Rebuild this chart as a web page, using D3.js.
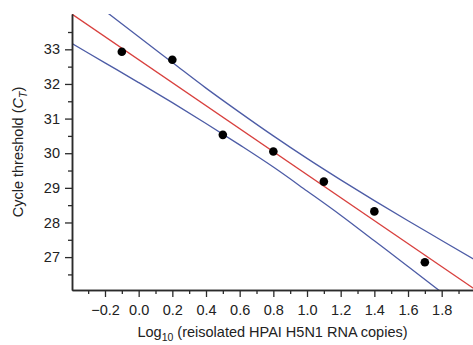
<!DOCTYPE html>
<html>
<head>
<meta charset="utf-8">
<script src="https://cdn.jsdelivr.net/npm/d3@7"></script>
<style>
  html, body { margin: 0; padding: 0; background: #fff; }
  svg { display: block; font-family: "Liberation Sans", Arial, Helvetica, sans-serif; }
</style>
</head>
<body>
<svg id="chart" width="473" height="345"></svg>
<script>
// ---- data ----
const pointLog = [-0.1, 0.2, 0.5, 0.8, 1.1, 1.4, 1.7];
const pointCt  = [32.93, 32.70, 30.53, 30.05, 29.18, 28.32, 26.85];

const fitLog = [-0.4, 2.0];
const fitCt  = [34.03, 26.06];

const bandLog   = [-0.4, -0.2, 0.0, 0.2, 0.4, 0.6, 0.8, 1.0, 1.2, 1.4, 1.6, 1.8, 2.0];
const bandUpper = [34.88, 34.11, 33.36, 32.62, 31.88, 31.18, 30.50, 29.85, 29.23, 28.63, 28.05, 27.48, 26.91];
const bandLower = [33.18, 32.61, 32.04, 31.46, 30.86, 30.24, 29.60, 28.91, 28.21, 27.47, 26.73, 25.98, 25.21];

const xMajorTicks = [-0.2, 0.0, 0.2, 0.4, 0.6, 0.8, 1.0, 1.2, 1.4, 1.6, 1.8];
const xMinorTicks = [-0.3, -0.1, 0.1, 0.3, 0.5, 0.7, 0.9, 1.1, 1.3, 1.5, 1.7, 1.9];
const yMajorTicks = [27, 28, 29, 30, 31, 32, 33];
const yMinorTicks = [26.5, 27.5, 28.5, 29.5, 30.5, 31.5, 32.5, 33.5];

// ---- layout ----
const svg = d3.select("#chart");
const mLeft = 72, mRight = 473, mTop = 14, mBottom = 290;
const fontSize = 14.5;

const x = d3.scaleLinear().domain([-0.396, 1.986]).range([mLeft, mRight]);
const y = d3.scaleLinear().domain([26.05, 34.02]).range([mBottom, mTop]);

const axisColor = "#2b2b2b";
const blue = "#4d5ca6";
const red = "#d8403e";

svg.append("defs").append("clipPath").attr("id", "plotclip")
  .append("rect").attr("x", mLeft).attr("y", mTop)
  .attr("width", mRight - mLeft).attr("height", mBottom - mTop);

const plot = svg.append("g").attr("clip-path", "url(#plotclip)");

const line = d3.line().x(d => x(d[0])).y(d => y(d[1])).curve(d3.curveMonotoneX);

plot.append("path")
  .attr("d", line(bandLog.map((v, i) => [v, bandUpper[i]])))
  .attr("fill", "none").attr("stroke", blue).attr("stroke-width", 1.3);
plot.append("path")
  .attr("d", line(bandLog.map((v, i) => [v, bandLower[i]])))
  .attr("fill", "none").attr("stroke", blue).attr("stroke-width", 1.3);
plot.append("path")
  .attr("d", d3.line().x(d => x(d[0])).y(d => y(d[1]))(fitLog.map((v, i) => [v, fitCt[i]])))
  .attr("fill", "none").attr("stroke", red).attr("stroke-width", 1.3);

plot.selectAll("circle.pt")
  .data(pointLog.map((v, i) => [v, pointCt[i]]))
  .join("circle")
  .attr("class", "pt")
  .attr("cx", d => x(d[0])).attr("cy", d => y(d[1]))
  .attr("r", 4.3).attr("fill", "#000");

// ---- axes ----
function styleAxis(g) {
  g.select(".domain").attr("stroke", axisColor).attr("stroke-width", 1.5);
  g.selectAll(".tick line").attr("stroke", axisColor).attr("stroke-width", 1.3);
  g.selectAll(".tick text").attr("fill", "#222").style("font-size", fontSize + "px")
    .style("font-family", "'Liberation Sans', Arial, sans-serif");
}

const xMinor = svg.append("g").attr("transform", `translate(0,${mBottom})`)
  .call(d3.axisBottom(x).tickValues(xMinorTicks).tickSize(4).tickSizeOuter(0).tickFormat(""));
styleAxis(xMinor);
const xMajor = svg.append("g").attr("transform", `translate(0,${mBottom})`)
  .call(d3.axisBottom(x).tickValues(xMajorTicks).tickSize(7).tickSizeOuter(0).tickPadding(8)
    .tickFormat(d3.format(".1f")));
styleAxis(xMajor);

const yMinor = svg.append("g").attr("transform", `translate(${mLeft},0)`)
  .call(d3.axisLeft(y).tickValues(yMinorTicks).tickSize(4).tickSizeOuter(0).tickFormat(""));
styleAxis(yMinor);
const yMajor = svg.append("g").attr("transform", `translate(${mLeft},0)`)
  .call(d3.axisLeft(y).tickValues(yMajorTicks).tickSize(7).tickSizeOuter(0).tickPadding(5)
    .tickFormat(d3.format("d")));
styleAxis(yMajor);

// ---- titles ----
const xt = svg.append("text")
  .attr("x", (mLeft + mRight) / 2).attr("y", 337)
  .attr("text-anchor", "middle").attr("fill", "#222")
  .style("font-size", fontSize + "px");
xt.append("tspan").text("Log");
xt.append("tspan").attr("dy", 4).style("font-size", "10.5px").text("10");
xt.append("tspan").attr("dy", -4).text(" (reisolated HPAI H5N1 RNA copies)");

const yt = svg.append("text")
  .attr("transform", `translate(23,${(mTop + mBottom) / 2}) rotate(-90)`)
  .attr("text-anchor", "middle").attr("fill", "#222")
  .style("font-size", fontSize + "px");
yt.append("tspan").text("Cycle threshold (");
yt.append("tspan").style("font-style", "italic").text("C");
yt.append("tspan").attr("dy", 4).style("font-size", "10.5px").style("font-style", "italic").text("T");
yt.append("tspan").attr("dy", -4).text(")");
</script>
</body>
</html>
